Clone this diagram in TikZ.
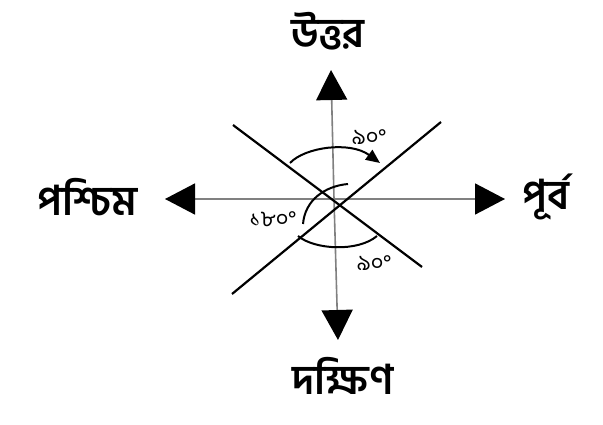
\documentclass[tikz,border=0pt]{standalone}
\usepackage{fontspec}
\newfontfamily\bnfont[Script=Bengali]{Hind Siliguri}
\usetikzlibrary{arrows.meta, calc}

\begin{document}
\begin{tikzpicture}[x=1pt, y=-1pt]

\tikzstyle{dirlabel} = [font=\bnfont\bfseries\fontsize{41}{48}\selectfont, inner sep=0pt]
\tikzstyle{deglabel} = [font=\bnfont\fontsize{22}{26}\selectfont, inner sep=0pt]
\tikzstyle{axis} = [draw=gray, line width=1.6pt, -{Triangle[length=30pt, width=31pt, color=black]}]
\tikzstyle{diag} = [draw=black, line width=2.2pt]
\tikzstyle{curve} = [draw=black, line width=2pt]

\useasboundingbox (0,0) rectangle (603,425);

\coordinate (O) at (334,199);
\coordinate (tipN) at (331,70);
\coordinate (tipS) at (338,340);
\coordinate (tipW) at (165,199);
\coordinate (tipE) at (505,199);

\node (north) [dirlabel] at (328,31) {উত্তর};
\node (south) [dirlabel] at (343,376) {দক্ষিণ};
\node (west) [dirlabel] at (87,197) {পশ্চিম};
\node (east) [dirlabel] at (546,197) {পূর্ব};

\draw [axis] (O) -- (tipN);
\draw [axis] (O) -- (tipS);
\draw [axis] (O) -- (tipW);
\draw [axis] (O) -- (tipE);

% two crossing lines
\coordinate (d1a) at (233,125);
\coordinate (d1b) at (422,267);
\coordinate (d2a) at (232,294);
\coordinate (d2b) at (441,122);
\draw [diag] (d1a) -- (d1b);
\draw [diag] (d2a) -- (d2b);

% angle arcs
\coordinate (a1s) at (290,163);
\coordinate (a1e) at (380,163);
\coordinate (a2s) at (348,184);
\coordinate (a2e) at (303,224);
\coordinate (a3s) at (298,236);
\coordinate (a3e) at (377,236);
\draw [curve, -{Triangle[length=14pt, width=12pt]}] (a1s) .. controls (305,147) and (350,141) .. (a1e);
\draw [curve] (a2s) .. controls (325,186) and (305,200) .. (a2e);
\draw [curve] (a3s) .. controls (315,250) and (358,252) .. (a3e);

\node (ang1) [deglabel] at (369,137) {৯০°};
\node (ang2) [deglabel] at (273,219) {১৮০°};
\node (ang3) [deglabel] at (374,263) {৯০°};
\end{tikzpicture}
\end{document}
